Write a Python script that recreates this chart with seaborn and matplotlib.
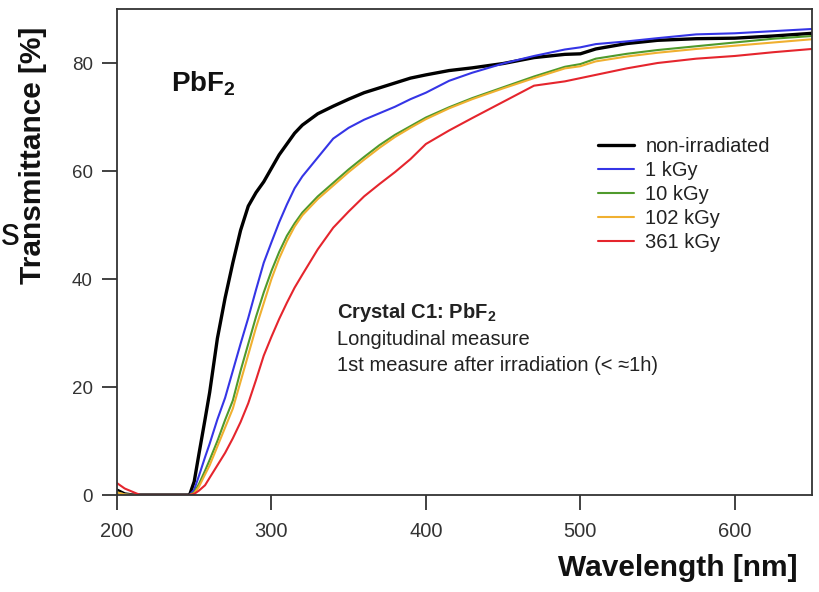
import matplotlib
matplotlib.use("Agg")
import matplotlib.pyplot as plt
import seaborn as sns
import pandas as pd

# ---------------- data ----------------
wavelength = [200, 205, 210, 215, 220, 230, 240, 247, 250, 253, 257, 260, 265, 270, 275,
              280, 285, 290, 295, 300, 305, 310, 315, 320, 330, 340, 350, 360, 370, 380,
              390, 400, 415, 430, 450, 470, 490, 500, 510, 530, 550, 575, 600, 625, 650]

non_irradiated = [0.9, 0.2, 0.0, 0.0, 0.0, 0.0, 0.0, 0.0, 2.5, 7.5, 14.0, 19.0, 29.0, 36.5, 43.0,
                  49.0, 53.5, 56.0, 58.0, 60.5, 63.0, 65.0, 67.0, 68.5, 70.6, 72.0, 73.3, 74.5, 75.4, 76.3,
                  77.2, 77.8, 78.6, 79.1, 79.9, 81.0, 81.6, 81.7, 82.6, 83.6, 84.2, 84.5, 84.6, 85.0, 85.5]

kgy_1 = [0.5, 0.1, 0.0, 0.0, 0.0, 0.0, 0.0, 0.0, 1.0, 3.5, 7.0, 9.5, 14.0, 18.0, 23.0,
         28.0, 32.8, 38.0, 43.0, 46.8, 50.5, 53.8, 56.8, 59.0, 62.5, 66.0, 68.0, 69.5, 70.7, 71.9,
         73.3, 74.5, 76.7, 78.2, 79.9, 81.3, 82.5, 82.9, 83.5, 84.0, 84.6, 85.3, 85.5, 85.9, 86.3]

kgy_10 = [0.5, 0.1, 0.0, 0.0, 0.0, 0.0, 0.0, 0.0, 0.5, 2.0, 4.5, 6.5, 10.0, 13.9, 17.5,
          23.0, 28.0, 33.0, 37.5, 41.5, 45.0, 48.0, 50.3, 52.3, 55.3, 57.8, 60.3, 62.6, 64.8, 66.7,
          68.3, 69.9, 71.8, 73.5, 75.5, 77.5, 79.3, 79.8, 80.8, 81.7, 82.4, 83.1, 83.8, 84.5, 85.0]

kgy_102 = [0.5, 0.1, 0.0, 0.0, 0.0, 0.0, 0.0, 0.0, 0.3, 1.5, 3.8, 5.5, 9.0, 12.5, 16.0,
           21.0, 26.0, 31.0, 35.5, 40.0, 43.8, 47.0, 49.7, 51.8, 54.8, 57.3, 59.8, 62.1, 64.3, 66.3,
           68.0, 69.6, 71.6, 73.3, 75.3, 77.2, 79.0, 79.4, 80.3, 81.2, 81.9, 82.6, 83.2, 83.8, 84.4]

kgy_361 = [2.2, 1.2, 0.6, 0.0, 0.0, 0.0, 0.0, 0.0, 0.2, 0.8, 1.8, 3.2, 5.5, 7.8, 10.5,
           13.5, 17.0, 21.3, 25.8, 29.3, 32.6, 35.6, 38.4, 40.8, 45.5, 49.5, 52.5, 55.3, 57.6, 59.8,
           62.2, 65.0, 67.5, 69.8, 72.8, 75.8, 76.6, 77.2, 77.8, 79.0, 80.0, 80.8, 81.3, 82.0, 82.6]

series_labels = ["non-irradiated", "1 kGy", "10 kGy", "102 kGy", "361 kGy"]
series_values = [non_irradiated, kgy_1, kgy_10, kgy_102, kgy_361]

x_ticks = [200, 300, 400, 500, 600]
y_ticks = [0, 20, 40, 60, 80]

# ---------------- style ----------------
sns.set_style("white")
FAM = ["Liberation Sans", "DejaVu Sans"]
plt.rcParams["font.family"] = FAM
plt.rcParams["mathtext.default"] = "regular"

colors = {"non-irradiated": "#000000", "1 kGy": "#3535e6", "10 kGy": "#4f9a2c",
          "102 kGy": "#f0b030", "361 kGy": "#e5252d"}
widths = {"non-irradiated": 2.4, "1 kGy": 1.5, "10 kGy": 1.5, "102 kGy": 1.5, "361 kGy": 1.5}

rows = []
for lab, vals in zip(series_labels, series_values):
    for w, t in zip(wavelength, vals):
        rows.append({"Wavelength": w, "Transmittance": t, "Series": lab})
df = pd.DataFrame(rows)

W, H = 819, 592
fig = plt.figure(figsize=(W / 100, H / 100), dpi=100)
L, R, T, B = 117, 812, 9, 495
ax = fig.add_axes([L / W, 1 - B / H, (R - L) / W, (B - T) / H])

for lab in series_labels:
    sub = df[df["Series"] == lab]
    sns.lineplot(data=sub, x="Wavelength", y="Transmittance", ax=ax, color=colors[lab],
                 lw=widths[lab], label=lab, estimator=None, sort=True)

ax.set_xlim(200, 650)
ax.set_ylim(0, 90)
ax.set_xticks(x_ticks)
ax.set_yticks(y_ticks)
ax.tick_params(axis="both", which="major", bottom=True, left=True, top=False, right=False,
               direction="out", length=10.5, width=1.3, color="#333333",
               labelcolor="#333333")
ax.tick_params(axis="x", labelsize=14.5, pad=9)
ax.tick_params(axis="y", labelsize=13.5, pad=7)
for s in ax.spines.values():
    s.set_visible(True)
    s.set_color("#333333")
    s.set_linewidth(1.3)

ax.set_xlabel("Wavelength [nm]", fontsize=21.5, fontweight="bold", color="#111111")
ax.xaxis.set_label_coords((798 - L) / (R - L), (B - 568) / (B - T))
ax.xaxis.label.set_ha("right")
ax.xaxis.label.set_va("center")

ax.set_ylabel("Transmittance [%]", fontsize=21.5, fontweight="bold", color="#111111")
ax.yaxis.set_label_coords((33 - L) / (R - L), (B - 155) / (B - T))
ax.yaxis.label.set_ha("center")
ax.yaxis.label.set_va("center")

# annotations
ax.text((171 - L) / (R - L), (B - 92) / (B - T), "PbF$_2$", transform=ax.transAxes,
        fontsize=20, fontweight="bold", ha="left", va="baseline", color="#111111")
ax.text((337 - L) / (R - L), (B - 318) / (B - T), "Crystal C1: PbF$_2$", transform=ax.transAxes,
        fontsize=14.5, fontweight="bold", ha="left", va="baseline", color="#222222")
ax.text((337 - L) / (R - L), (B - 345) / (B - T), "Longitudinal measure", transform=ax.transAxes,
        fontsize=14.5, ha="left", va="baseline", color="#222222")
ax.text((337 - L) / (R - L), (B - 371) / (B - T), "1st measure after irradiation (< \u22481h)",
        transform=ax.transAxes, fontsize=14.5, ha="left", va="baseline", color="#222222",
        family=FAM)

leg = ax.legend(loc="upper left", bbox_to_anchor=(598 / W, 1 - 137 / H),
                bbox_transform=fig.transFigure, frameon=False, fontsize=14.5,
                borderpad=0, borderaxespad=0, handlelength=1.8, handletextpad=0.55,
                labelspacing=0.25)
for t in leg.get_texts():
    t.set_color("#222222")

# partially visible character at the left edge of the reference image
fig.text(1 / W, 1 - 245 / H, "s", fontsize=27, ha="left", va="baseline", color="#111111")

fig.savefig("out.png", dpi=100)
